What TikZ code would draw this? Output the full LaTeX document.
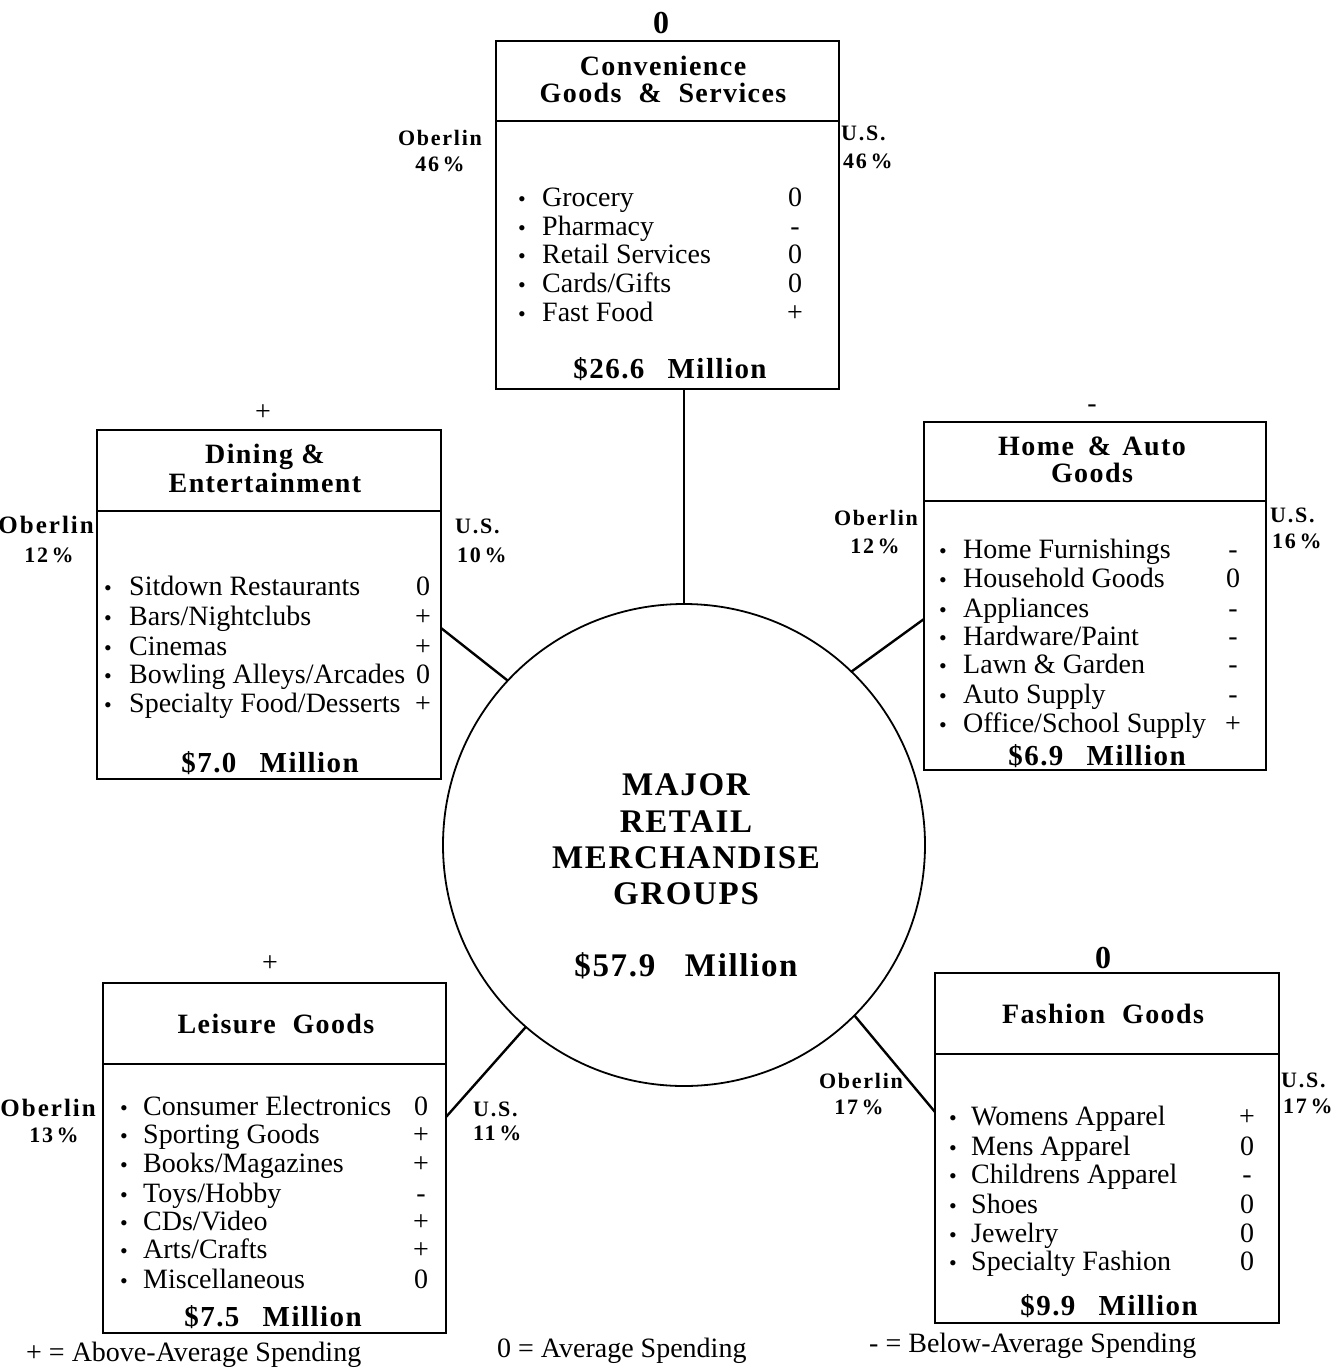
\documentclass[tikz,border=0pt]{standalone}
\usepackage{fontspec}
\setmainfont{Liberation Serif}
\newfontfamily\DgSpaced[LetterSpace=5]{Liberation Serif}
\newfontfamily\DgLabFam[LetterSpace=8]{Liberation Serif}
\newcommand\DgItem{\fontsize{28}{30}\selectfont}
\newcommand\DgBul{\fontsize{22}{24}\selectfont}
\newcommand\DgTitle{\DgSpaced\bfseries\fontsize{28}{30}\selectfont}
\newcommand\DgLab{\DgLabFam\bfseries\fontsize{22}{24}\selectfont}
\newcommand\DgLabBig{\DgLabFam\bfseries\fontsize{25}{27}\selectfont}
\newcommand\DgAmt{\DgSpaced\bfseries\fontsize{29}{31}\selectfont}
\newcommand\DgCenter{\DgSpaced\bfseries\fontsize{33}{36}\selectfont}
\newcommand\DgTop{\bfseries\fontsize{32}{34}\selectfont}
\newcommand\BulX{0}
\newcommand\TxtX{0}
\newcommand\SymX{0}
\newcommand\irow[4]{%
  \node[bul] (#1b) at (\BulX,#2) {\textbullet};
  \node[itm] (#1t) at (\TxtX,#2) {#3};
  \node[sym] (#1s) at (\SymX,#2) {#4};}
\begin{document}
\begin{tikzpicture}[x=1pt,y=-1pt,
  bx/.style={draw, line width=1.6pt, rectangle, inner sep=0pt, outer sep=0pt},
  cn/.style={line width=2.4pt},
  dv/.style={line width=1.6pt},
  tt/.style={anchor=base, inner sep=0pt, font=\DgTitle},
  lab/.style={anchor=base, inner sep=0pt, font=\DgLab},
  itm/.style={anchor=base west, inner sep=0pt, font=\DgItem},
  bul/.style={anchor=base, inner sep=0pt, font=\DgBul},
  sym/.style={anchor=base, inner sep=0pt, font=\DgItem},
  amt/.style={anchor=base, inner sep=0pt, font=\DgAmt},
  ctr/.style={anchor=base, inner sep=0pt, font=\DgCenter},
  topsym/.style={anchor=base, inner sep=0pt, font=\DgItem},
  topzero/.style={anchor=base, inner sep=0pt, font=\DgTop},
  legend/.style={anchor=base west, inner sep=0pt, font=\DgItem}]
\useasboundingbox (0,0) rectangle (1336,1368);
\fill[white] (0,0) rectangle (1336,1368);

% central circle
\node[draw, circle, line width=1.8pt, minimum size=482pt, inner sep=0pt, outer sep=0pt] (circ) at (684,845) {};
\node[ctr] (cA) at (686,795) {MAJOR};
\node[ctr] (cB) at (686,832) {RETAIL};
\node[ctr] (cC) at (686,868) {MERCHANDISE};
\node[ctr] (cD) at (686,904) {GROUPS};
\node[ctr] (cE) at (686,976) {\$57.9\hspace{0.9em}Million};

% ---------- Convenience ----------
\node[bx, minimum width=343pt, minimum height=348pt] (conv) at (667.5,215) {};
\draw[dv] (conv.west |- 0,121) -- (conv.east |- 0,121);
\node[topzero] (convTop) at (661,33) {0};
\node[tt] (convT1) at (663,75) {Convenience};
\node[tt] (convT2) at (663,102) {Goods\hspace{0.6em}\&\hspace{0.6em}Services};
\node[lab] (convOb) at (440,145) {Oberlin};
\node[lab] (convObP) at (440,171) {46\,\%};
\node[lab, anchor=base west] (convUs) at (841,140) {U.S.};
\node[lab, anchor=base west] (convUsP) at (843,168) {46\,\%};
\renewcommand\BulX{522}\renewcommand\TxtX{542}\renewcommand\SymX{795}
\irow{ca}{206}{Grocery}{0}
\irow{cb}{235}{Pharmacy}{-}
\irow{cc}{263}{Retail Services}{0}
\irow{cd}{292}{Cards/Gifts}{0}
\irow{ce}{321}{Fast Food}{+}
\node[amt] (convAmt) at (670,378) {\$26.6\hspace{0.8em}Million};

% ---------- Dining ----------
\node[bx, minimum width=344pt, minimum height=349pt] (dine) at (269,604.5) {};
\draw[dv] (dine.west |- 0,511) -- (dine.east |- 0,511);
\node[topsym] (dineTop) at (263,420) {+};
\node[tt] (dineT1) at (265,463) {Dining \&};
\node[tt] (dineT2) at (265,492) {Entertainment};
\node[lab, anchor=base east, font=\DgLabBig] (dineOb) at (94,533) {Oberlin};
\node[lab] (dineObP) at (49,562) {12\,\%};
\node[lab, anchor=base west] (dineUs) at (455,533) {U.S.};
\node[lab, anchor=base west] (dineUsP) at (457,562) {10\,\%};
\renewcommand\BulX{108}\renewcommand\TxtX{129}\renewcommand\SymX{423}
\irow{da}{595}{Sitdown Restaurants}{0}
\irow{db}{625}{Bars/Nightclubs}{+}
\irow{dc}{655}{Cinemas}{+}
\irow{dd}{683}{Bowling Alleys/Arcades}{0}
\irow{de}{712}{Specialty Food/Desserts}{+}
\node[amt] (dineAmt) at (270,772) {\$7.0\hspace{0.8em}Million};

% ---------- Home & Auto ----------
\node[bx, minimum width=342pt, minimum height=348pt] (home) at (1095,596) {};
\draw[dv] (home.west |- 0,501) -- (home.east |- 0,501);
\node[topsym] (homeTop) at (1092,412) {-};
\node[tt] (homeT1) at (1092,455) {Home\hspace{0.5em}\&\hspace{0.4em}Auto};
\node[tt] (homeT2) at (1092,482) {Goods};
\node[lab] (homeOb) at (876,525) {Oberlin};
\node[lab] (homeObP) at (875,553) {12\,\%};
\node[lab, anchor=base west] (homeUs) at (1270,522) {U.S.};
\node[lab, anchor=base west] (homeUsP) at (1272,548) {16\,\%};
\renewcommand\BulX{943}\renewcommand\TxtX{963}\renewcommand\SymX{1233}
\irow{ha}{558}{Home Furnishings}{-}
\irow{hb}{587}{Household Goods}{0}
\irow{hc}{617}{Appliances}{-}
\irow{hd}{645}{Hardware/Paint}{-}
\irow{he}{673}{Lawn \& Garden}{-}
\irow{hf}{703}{Auto Supply}{-}
\irow{hg}{732}{Office/School Supply}{+}
\node[amt] (homeAmt) at (1097,765) {\$6.9\hspace{0.8em}Million};

% ---------- Leisure ----------
\node[bx, minimum width=343pt, minimum height=350pt] (leis) at (274.5,1158) {};
\draw[dv] (leis.west |- 0,1064) -- (leis.east |- 0,1064);
\node[topsym] (leisTop) at (270,971) {+};
\node[tt] (leisT1) at (276,1033) {Leisure\hspace{0.6em}Goods};
\node[lab, anchor=base east, font=\DgLabBig] (leisOb) at (96,1116) {Oberlin};
\node[lab] (leisObP) at (54,1142) {13\,\%};
\node[lab, anchor=base west] (leisUs) at (473,1116) {U.S.};
\node[lab, anchor=base west] (leisUsP) at (473,1140) {11\,\%};
\renewcommand\BulX{124}\renewcommand\TxtX{143}\renewcommand\SymX{421}
\irow{la}{1115}{Consumer Electronics}{0}
\irow{lb}{1143}{Sporting Goods}{+}
\irow{lc}{1172}{Books/Magazines}{+}
\irow{ld}{1202}{Toys/Hobby}{-}
\irow{le}{1230}{CDs/Video}{+}
\irow{lf}{1258}{Arts/Crafts}{+}
\irow{lg}{1288}{Miscellaneous}{0}
\node[amt] (leisAmt) at (273,1326) {\$7.5\hspace{0.8em}Million};

% ---------- Fashion ----------
\node[bx, minimum width=344pt, minimum height=350pt] (fash) at (1107,1148) {};
\draw[dv] (fash.west |- 0,1054) -- (fash.east |- 0,1054);
\node[topzero] (fashTop) at (1103,968) {0};
\node[tt] (fashT1) at (1103,1023) {Fashion\hspace{0.6em}Goods};
\node[lab] (fashOb) at (861,1088) {Oberlin};
\node[lab] (fashObP) at (859,1114) {17\,\%};
\node[lab, anchor=base west] (fashUs) at (1281,1087) {U.S.};
\node[lab, anchor=base west] (fashUsP) at (1283,1113) {17\,\%};
\renewcommand\BulX{953}\renewcommand\TxtX{971}\renewcommand\SymX{1247}
\irow{fa}{1125}{Womens Apparel}{+}
\irow{fb}{1155}{Mens Apparel}{0}
\irow{fc}{1183}{Childrens Apparel}{-}
\irow{fd}{1213}{Shoes}{0}
\irow{fe}{1242}{Jewelry}{0}
\irow{ff}{1270}{Specialty Fashion}{0}
\node[amt] (fashAmt) at (1109,1315) {\$9.9\hspace{0.8em}Million};

% ---------- connectors ----------
\coordinate (convFoot) at (conv.south -| circ.north);
\coordinate (dineEnd) at (dine.east |- 0,628);
\coordinate (homeEnd) at (home.west |- 0,619);
\coordinate (leisEnd) at (leis.east |- 0,1117);
\coordinate (fashEnd) at (fash.west |- 0,1112);
\draw[cn] (convFoot) -- (circ.north);
\draw[cn] (dineEnd) -- (circ.137);
\draw[cn] (homeEnd) -- (circ.46);
\draw[cn] (leisEnd) -- (circ.229);
\draw[cn] (fashEnd) -- (circ.315);

% ---------- legend ----------
\node[legend] (legA) at (26,1361) {+ = Above-Average Spending};
\node[legend] (legB) at (497,1357) {0 = Average Spending};
\node[legend] (legC) at (869,1352) {- = Below-Average Spending};
\end{tikzpicture}
\end{document}
